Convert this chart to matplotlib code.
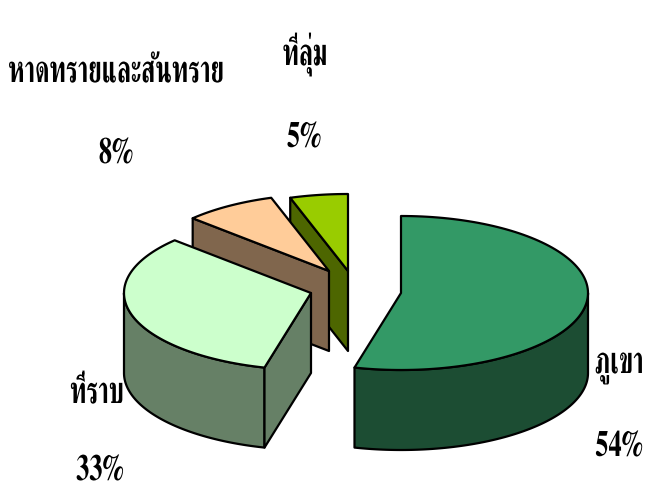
import numpy as np
import matplotlib
matplotlib.use('Agg')
import matplotlib.pyplot as plt
from matplotlib.patches import Polygon
from matplotlib.patheffects import AbstractPathEffect
from matplotlib.transforms import Affine2D

categories = ['ภูเขา', 'ที่ราบ', 'หาดทรายและสันทราย', 'ที่ลุ่ม']
values = [54, 33, 8, 5]
pct_labels = ['54%', '33%', '8%', '5%']

top_colors = ['#339966', '#CCFFCC', '#FFCC99', '#99CC00']
side_colors = ['#1C4D33', '#668066', '#80664D', '#4D6600']
centers = [(401, 293), (311, 293), (329, 271), (348, 271)]
cat_pos = [(619, 373), (97, 403), (116, 82), (305, 65)]
pct_pos = [(619, 456), (100, 480), (116, 163), (304, 147)]

RX, RY, DEPTH = 187, 77, 80
FS = 19

plt.rcParams['font.family'] = ['FreeSerif', 'Liberation Serif', 'DejaVu Serif']
fig = plt.figure(figsize=(6.45, 4.84), dpi=100)
ax = fig.add_axes([0, 0, 1, 1])
ax.set_xlim(0, 645)
ax.set_ylim(484, 0)
ax.axis('off')

edges = np.concatenate([[0], np.cumsum(values)]) / np.sum(values) * 2 * np.pi


class Condensed(AbstractPathEffect):
    """Draw a text narrow and tall about its anchor, as the reference's face is."""

    def __init__(self, anchor, sx, sy):
        super().__init__()
        self.anchor, self.sx, self.sy = anchor, sx, sy

    def draw_path(self, renderer, gc, tpath, affine, rgbFace=None):
        ox, oy = self.anchor
        extra = Affine2D().translate(-ox, -oy).scale(self.sx, self.sy).translate(ox, oy)
        renderer.draw_path(gc, tpath, affine + extra, rgbFace)


def rim(cx, cy, a0, a1, n=120):
    t = np.linspace(a0, a1, n)
    return np.column_stack([cx + RX * np.sin(t), cy - RY * np.cos(t)])


def draw(points, color, z):
    ax.add_patch(Polygon(points, closed=True, facecolor=color, edgecolor='black',
                         linewidth=1.6, joinstyle='round', zorder=z))


def label(s, x, y, sx, sy):
    anchor = ax.transData.transform((x, y))
    ax.text(x, y, s, ha='center', va='baseline', fontsize=FS, fontweight='bold',
            color='black', zorder=20, path_effects=[Condensed(anchor, sx, sy)])


down = np.array([0, DEPTH])
# paint from back to front
for z, i in enumerate([3, 2, 1, 0]):
    cx, cy = centers[i]
    a0, a1 = edges[i], edges[i + 1]
    c = np.array([cx, cy])
    # outer wall: the part of the rim on the near side
    lo, hi = max(a0, np.pi / 2), min(a1, 3 * np.pi / 2)
    if hi > lo:
        r = rim(cx, cy, lo, hi)
        draw(np.vstack([r, (r + down)[::-1]]), side_colors[i], z * 3)
    # cut face turned to the viewer: the leading edge of every slice past the bottom
    if a0 > np.pi:
        p = rim(cx, cy, a0, a0, 1)[0]
        draw([c, p, p + down, c + down], side_colors[i], z * 3 + 1)
    # top face
    draw(np.vstack([c, rim(cx, cy, a0, a1)]), top_colors[i], z * 3 + 2)

for name, pct, (x, y), (px, py) in zip(categories, pct_labels, cat_pos, pct_pos):
    label(name, x, y, 0.93, 1.45)
    label(pct, px, py, 1.0, 1.4)

fig.savefig('out.png', dpi=100)
